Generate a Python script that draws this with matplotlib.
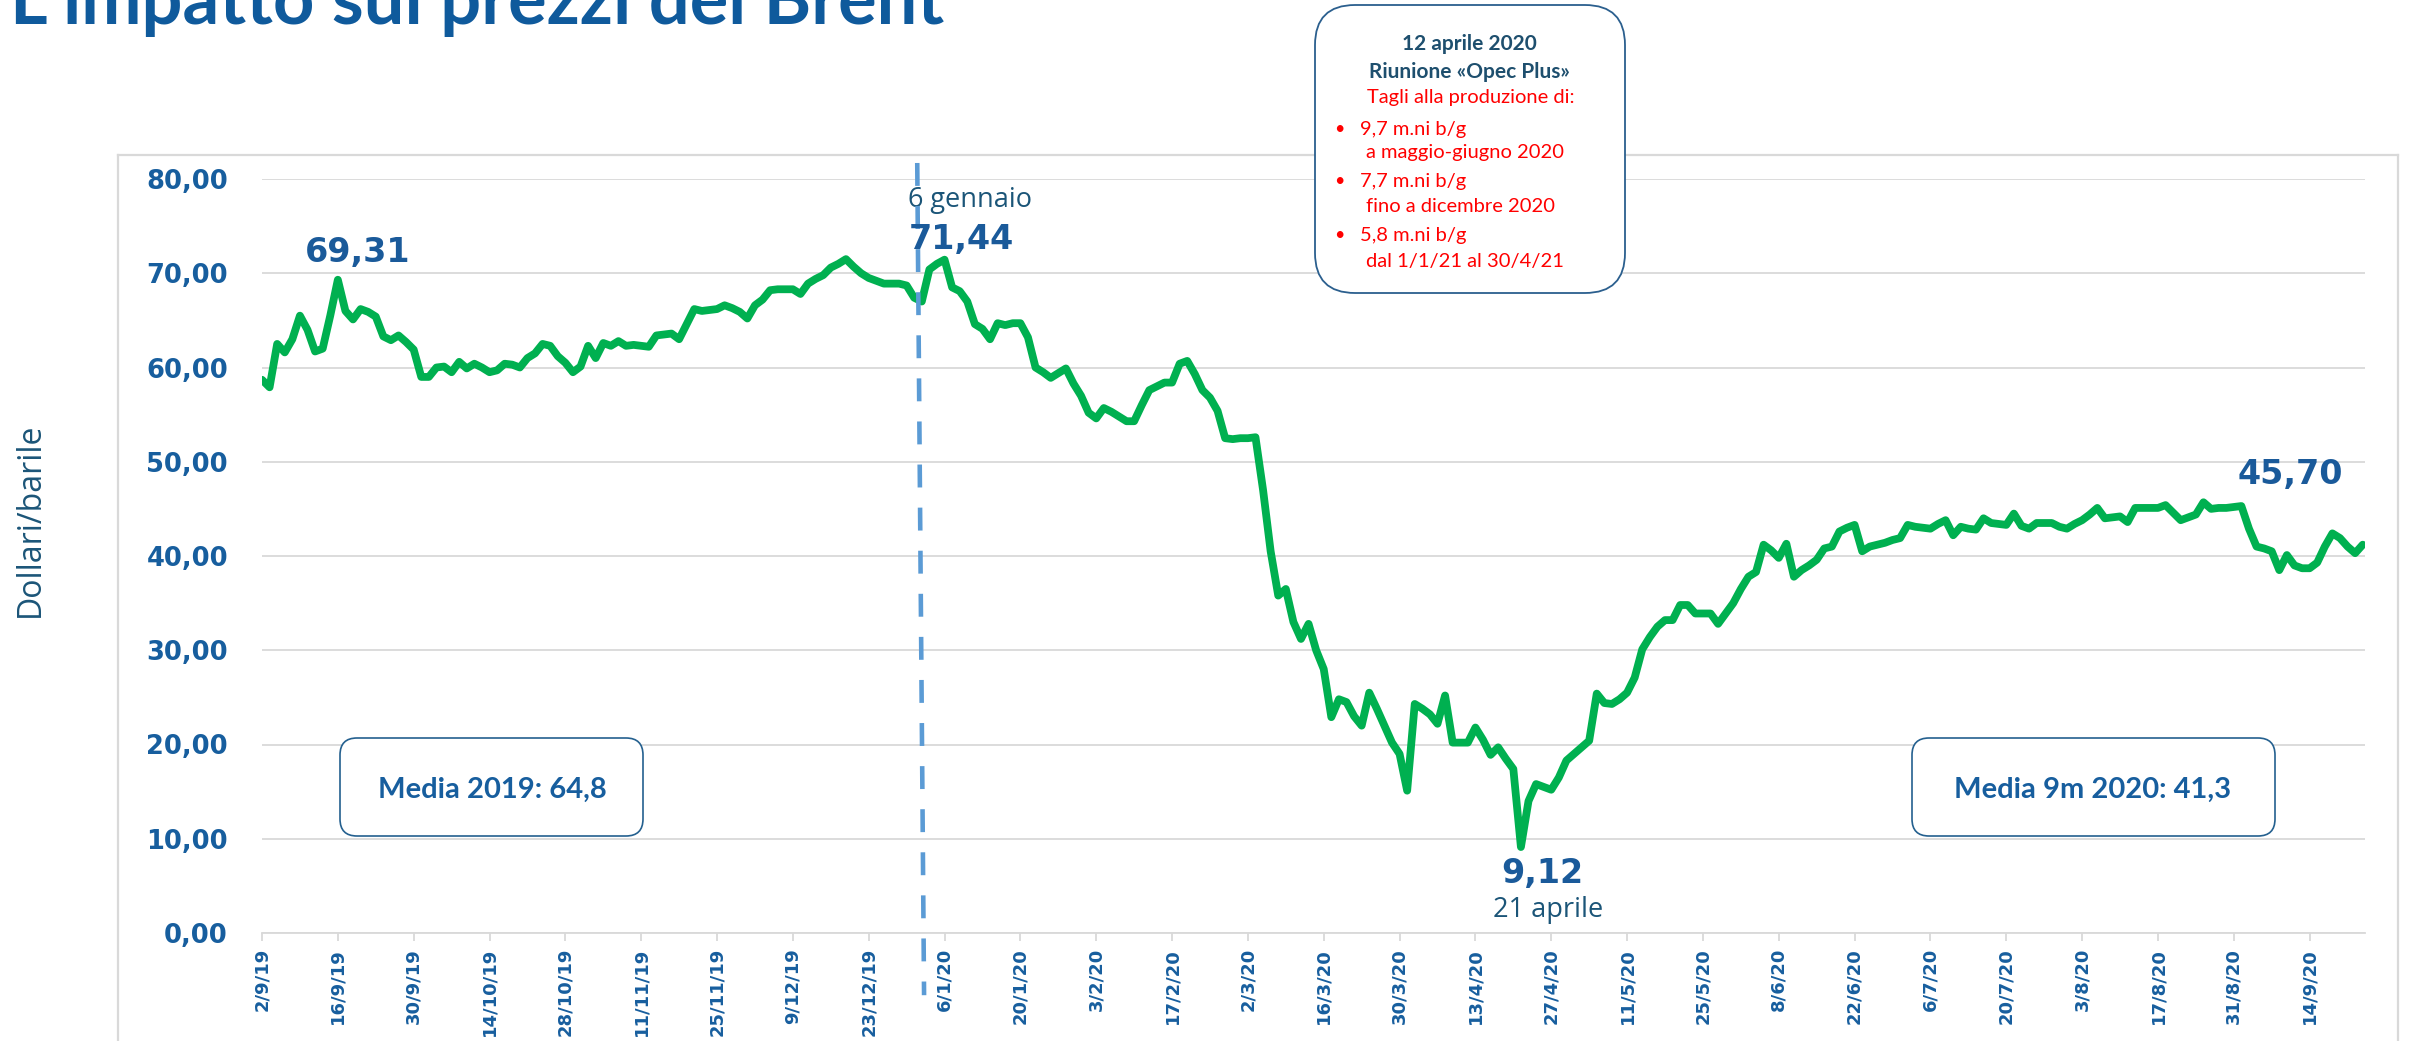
import matplotlib
matplotlib.use("Agg")
import matplotlib.pyplot as plt
from matplotlib.patches import FancyBboxPatch
from matplotlib.lines import Line2D

# Brent (Dated), $/barrel, one value per business day from 2/9/2019
brent = [
    58.7, 57.9, 62.5, 61.6, 63.0, 65.5, 64.0, 61.7, 62.0, 65.5,
    69.31, 66.0, 65.1, 66.2, 65.9, 65.4, 63.3, 62.9, 63.4, 62.7,
    61.9, 59.0, 59.0, 60.0, 60.1, 59.5, 60.6, 59.9, 60.4, 60.0,
    59.5, 59.7, 60.4, 60.3, 60.0, 61.0, 61.5, 62.5, 62.3, 61.2,
    60.5, 59.5, 60.1, 62.3, 61.0, 62.6, 62.3, 62.8, 62.3, 62.4,
    62.3, 62.2, 63.4, 63.5, 63.6, 63.0, 64.6, 66.2, 66.0, 66.1,
    66.2, 66.6, 66.3, 65.9, 65.2, 66.6, 67.2, 68.2, 68.3, 68.3,
    68.3, 67.8, 68.9, 69.4, 69.8, 70.6, 71.0, 71.5, 70.7, 70.0,
    69.5, 69.2, 68.9, 68.9, 68.9, 68.7, 67.4, 67.0, 70.4, 71.0,
    71.44, 68.5, 68.1, 67.0, 64.6, 64.1, 63.0, 64.7, 64.5, 64.7,
    64.7, 63.2, 60.0, 59.5, 58.9, 59.4, 59.9, 58.3, 57.0, 55.2,
    54.6, 55.7, 55.3, 54.8, 54.3, 54.3, 56.0, 57.6, 58.0, 58.4,
    58.4, 60.4, 60.7, 59.3, 57.6, 56.8, 55.4, 52.5, 52.4, 52.5,
    52.5, 52.6, 47.0, 40.5, 35.8, 36.5, 33.0, 31.2, 32.8, 30.0,
    28.0, 22.9, 24.8, 24.5, 23.0, 22.0, 25.5, 23.8, 22.0, 20.2,
    19.0, 15.1, 24.3, 23.8, 23.2, 22.2, 25.2, 20.2, 20.2, 20.2,
    21.8, 20.5, 18.9, 19.7, 18.5, 17.4, 9.12, 14.0, 15.8, 15.5,
    15.2, 16.5, 18.3, 19.0, 19.7, 20.4, 25.4, 24.4, 24.3, 24.8,
    25.5, 27.1, 30.1, 31.4, 32.5, 33.2, 33.2, 34.8, 34.8, 33.9,
    33.9, 33.9, 32.8, 33.9, 35.0, 36.5, 37.8, 38.3, 41.2, 40.6,
    39.8, 41.3, 37.8, 38.5, 39.0, 39.6, 40.8, 41.0, 42.6, 43.0,
    43.3, 40.5, 41.0, 41.2, 41.4, 41.7, 41.9, 43.3, 43.1, 43.0,
    42.9, 43.4, 43.8, 42.2, 43.1, 42.9, 42.8, 44.0, 43.5, 43.4,
    43.3, 44.5, 43.2, 42.9, 43.5, 43.5, 43.5, 43.1, 42.9, 43.4,
    43.8, 44.4, 45.1, 44.0, 44.1, 44.2, 43.6, 45.1, 45.1, 45.1,
    45.1, 45.4, 44.6, 43.8, 44.1, 44.4, 45.70, 45.0, 45.1, 45.1,
    45.2, 45.3, 42.9, 41.0, 40.8, 40.5, 38.5, 40.1, 39.0, 38.7,
    38.7, 39.3, 41.0, 42.4, 41.9, 41.0, 40.3, 41.2,
]

tick_labels = [
    "2/9/19", "16/9/19", "30/9/19", "14/10/19", "28/10/19", "11/11/19",
    "25/11/19", "9/12/19", "23/12/19", "6/1/20", "20/1/20", "3/2/20",
    "17/2/20", "2/3/20", "16/3/20", "30/3/20", "13/4/20", "27/4/20",
    "11/5/20", "25/5/20", "8/6/20", "22/6/20", "6/7/20", "20/7/20",
    "3/8/20", "17/8/20", "31/8/20", "14/9/20",
]
y_ticks = [0, 10, 20, 30, 40, 50, 60, 70, 80]

# highlighted points (index into brent)
peak_idx = [10, 90, 166, 256]
media = ["Media 2019: 64,8", "Media 9m 2020: 41,3"]
opec_lines = ["9,7 m.ni b/g", "a maggio-giugno 2020", "7,7 m.ni b/g",
              "fino a dicembre 2020", "5,8 m.ni b/g", "dal 1/1/21 al 30/4/21"]

W, H, DPI = 2418, 1041, 100
BLUE = "#175E9E"
DARK = "#1B5578"
GRID = "#D9D9D9"
GREEN = "#00B050"


def P(x, y):
    # pixel position (from top-left) -> inches for dpi_scale_trans
    return x / DPI, (H - y) / DPI


fig = plt.figure(figsize=(W / DPI, H / DPI), dpi=DPI)
T = fig.dpi_scale_trans

ax = fig.add_axes([262 / W, 1 - 933 / H, (2365 - 262) / W, (933 - 179) / H])
x = list(range(len(brent)))
ax.plot(x, brent, color=GREEN, lw=5.6, solid_joinstyle="round",
        solid_capstyle="round", zorder=3)
ax.set_xlim(0, 277.3)
ax.set_ylim(0, 80)

ax.set_yticks(y_ticks)
ax.set_yticklabels([f"{v},00" for v in y_ticks])
ax.set_xticks(range(0, 10 * len(tick_labels), 10))
ax.set_xticklabels(tick_labels)
ax.grid(axis="y", color=GRID, lw=1.3)
ax.set_axisbelow(True)
for s in ["top", "right", "left"]:
    ax.spines[s].set_visible(False)
ax.spines["bottom"].set_color(GRID)
ax.spines["bottom"].set_linewidth(1.3)
ax.tick_params(axis="y", length=0, pad=24.5, labelsize=18.5, labelcolor=BLUE)
ax.tick_params(axis="x", length=5.8, width=1.3, color=GRID, pad=5,
               labelsize=13, labelcolor=BLUE, labelrotation=90)
for lab in ax.get_xticklabels() + ax.get_yticklabels():
    lab.set_fontweight("bold")
    lab.set_family("DejaVu Sans")

# dashed marker line (turn of the year)
ax.add_line(Line2D([86.4, 87.3], [81.7, -6.6], color="#5B9BD5", lw=3.3,
                   dashes=(5.0, 4.4), clip_on=False, zorder=4))

# value labels on notable points
offsets = [(20, 18), (17, 11), (21, -36), (87, 18)]
for i, (dx, dy) in zip(peak_idx, offsets):
    v = brent[i]
    ax.annotate(f"{v:.2f}".replace(".", ","), xy=(i, v), xytext=(dx, dy),
                textcoords="offset pixels", ha="center", va="baseline",
                fontsize=24, fontweight="bold", color="#1A5A9A",
                family="DejaVu Sans", zorder=5)
ax.annotate("6 gennaio", xy=(peak_idx[1], brent[peak_idx[1]]), xytext=(25, 53),
            textcoords="offset pixels", ha="center", va="baseline",
            fontsize=19.5, color=DARK, family=["Open Sans", "DejaVu Sans"])
ax.annotate("21 aprile", xy=(peak_idx[2], brent[peak_idx[2]]), xytext=(27, -70),
            textcoords="offset pixels", ha="center", va="baseline",
            fontsize=19.5, color=DARK, family=["Open Sans", "DejaVu Sans"])

# outer chart frame (cut at the bottom of the slide)
fx0, fx1, fy = 118, 2398, 155
for xs, ys in [((fx0, fx0), (fy, H)), ((fx0, fx1), (fy, fy)), ((fx1, fx1), (fy, H))]:
    p0, p1 = P(xs[0], ys[0]), P(xs[1], ys[1])
    fig.add_artist(Line2D([p0[0], p1[0]], [p0[1], p1[1]], transform=T,
                          color=GRID, lw=1.6, zorder=0.5))

# title (partly cut off at the top, as in the slide)
fig.text(*P(10, 24), "L'impatto sui prezzi del Brent", transform=T,
         fontsize=52, fontweight="bold", color="#0F5A9C",
         family=["Lato", "DejaVu Sans"], ha="left", va="baseline")

fig.text(*P(30, 520), "Dollari/barile", transform=T, rotation=90,
         fontsize=23, color=DARK, family=["Open Sans", "DejaVu Sans"],
         ha="center", va="center")


def rbox(x0, y0, x1, y1, r, ec, lw):
    bx, by = P(x0, y1)
    fig.add_artist(FancyBboxPatch((bx, by), (x1 - x0) / DPI, (y1 - y0) / DPI,
                                  boxstyle=f"round,pad=0,rounding_size={r}",
                                  transform=T, fc="white", ec=ec, lw=lw,
                                  zorder=2))


# OPEC+ box
rbox(1315, 5, 1625, 293, 0.40, "#2B5F8E", 1.3)
lato = ["Lato", "DejaVu Sans"]
fig.text(*P(1469, 50), "12 aprile 2020", transform=T, fontsize=15,
         fontweight="bold", color="#1E4F6E", family=lato, ha="center",
         va="baseline", zorder=3)
fig.text(*P(1469, 78), "Riunione «Opec Plus»", transform=T, fontsize=15,
         fontweight="bold", color="#1E4F6E", family=lato, ha="center",
         va="baseline", zorder=3)
fig.text(*P(1471, 103), "Tagli alla produzione di:", transform=T,
         fontsize=14.5, color="#FF0000", family=lato, ha="center",
         va="baseline", zorder=3)
base = [135, 158, 187, 212, 241, 267]
for k, (txt, yb) in enumerate(zip(opec_lines, base)):
    fig.text(*P(1360 if k % 2 == 0 else 1366, yb), txt, transform=T,
             fontsize=14.5, color="#FF0000", family=lato, ha="left",
             va="baseline", zorder=3)
    if k % 2 == 0:
        fig.text(*P(1339, yb - 6), "•", transform=T, fontsize=13,
                 color="#FF0000", family=lato, ha="center", va="center",
                 zorder=3)

# averages
rbox(340, 738, 643, 836, 0.17, "#24608F", 1.2)
rbox(1912, 738, 2275, 836, 0.17, "#24608F", 1.2)
fig.text(*P(492, 798), media[0], transform=T, fontsize=21, fontweight="bold",
         color=BLUE, family=lato, ha="center", va="baseline", zorder=3)
fig.text(*P(2093, 798), media[1], transform=T, fontsize=21, fontweight="bold",
         color=BLUE, family=lato, ha="center", va="baseline", zorder=3)

fig.savefig("out.png", dpi=DPI)
plt.close(fig)
